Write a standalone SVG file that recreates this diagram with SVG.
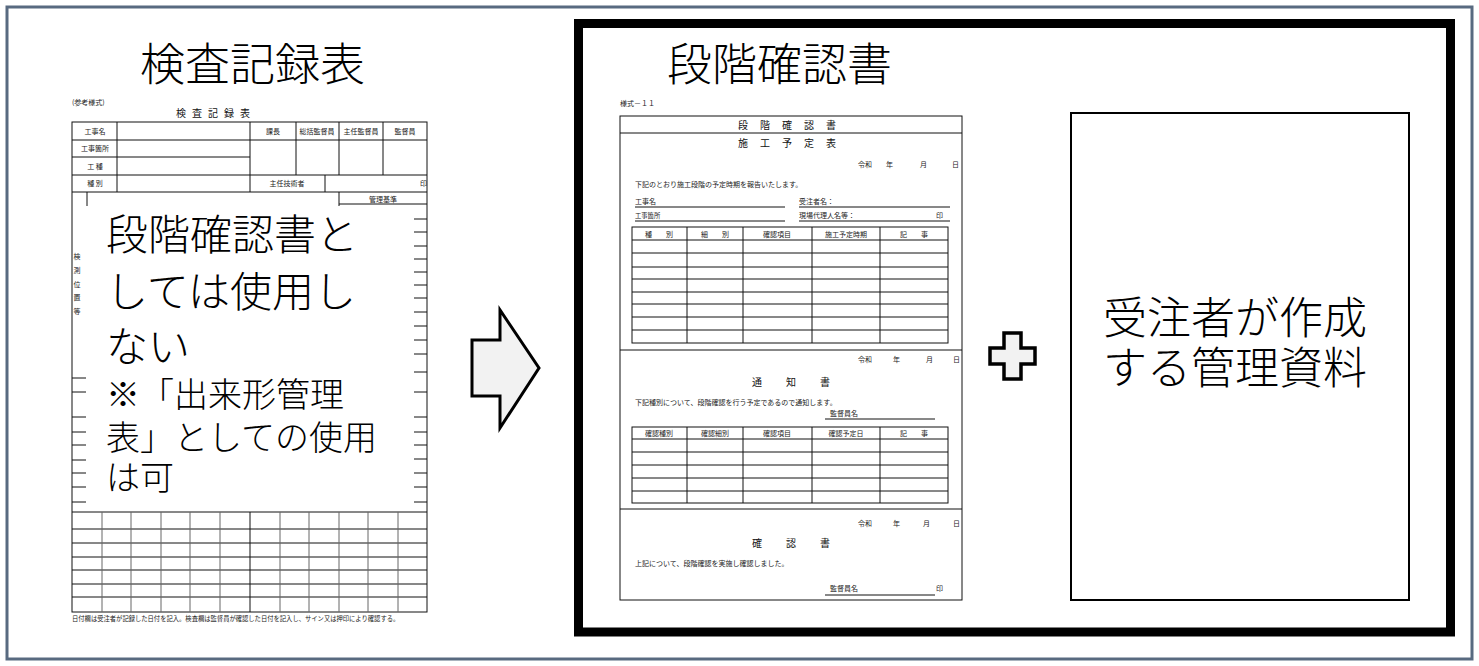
<svg xmlns="http://www.w3.org/2000/svg" width="1479" height="666" viewBox="0 0 1479 666">
<style>
.jp{font-family:"Noto Sans CJK JP","Noto Sans",sans-serif;fill:#000}
.title{font-size:45px;font-weight:300}
.big{font-size:42px;font-weight:300}
.mid{font-size:34px;font-weight:300}
.rbox{font-size:44px;font-weight:300}
.sm{font-family:"Noto Sans CJK JP",sans-serif;font-size:7px;fill:#222}
.xs{font-family:"Noto Sans CJK JP",sans-serif;font-size:6.3px;fill:#222}
.hd{font-family:"Noto Sans CJK JP",sans-serif;font-size:10px;fill:#111}
.ln{stroke:#111;stroke-width:1;fill:none}
.lg{stroke:#666;stroke-width:1;fill:none}
.ctr{text-anchor:middle}
</style>
<rect x="7" y="7" width="1465" height="652" fill="#fff" stroke="#586a80" stroke-width="3"/>

<g id="left-form">
<text class="jp title" x="140" y="81">検査記録表</text>
<text class="sm" x="72" y="105">(参考様式)</text>
<text class="hd ctr" x="216" y="117" font-size="8" letter-spacing="6">検査記録表</text>
<rect class="ln" x="72" y="122" width="355" height="490"/>
<path class="ln" d="M72 140H427M72 157H250M72 175H427M72 192H427M117 122V192M250 122V192M296 122V175M339 122V175M383 122V175M325 175V192M87 192V206M339 192V206M339 204H427"/>
<text class="sm ctr" x="95" y="134">工事名</text>
<text class="sm ctr" x="95" y="151" font-size="6">工事箇所</text>
<text class="sm ctr" x="95" y="169">工 種</text>
<text class="sm ctr" x="95" y="186">種 別</text>
<text class="sm ctr" x="273" y="134">課長</text>
<text class="sm ctr" x="317" y="134" font-size="6">総括監督員</text>
<text class="sm ctr" x="361" y="134" font-size="6">主任監督員</text>
<text class="sm ctr" x="405" y="134">監督員</text>
<text class="sm ctr" x="287" y="186">主任技術者</text>
<text class="sm" x="420" y="186">印</text>
<text class="sm" x="369" y="202">管理基準</text>
<g class="sm ctr"><text x="77" y="259">検</text><text x="77" y="273">測</text><text x="77" y="287">位</text><text x="77" y="300">置</text><text x="77" y="314">等</text></g>
<path class="ln" d="M414 219H427M414 232H427M414 246H427M414 259H427M414 272H427M414 285H427M414 298H427M414 312H427M414 326H427M414 340H427M414 354H427M414 372H427M414 392H427M414 417H427M414 432H427M414 445H427M414 459H427M414 473H427M414 487H427M414 502H427"/>
<path class="ln" d="M72 378H86M72 392H86M72 417H86M72 432H86M72 445H86M72 460H86M72 473H86M72 487H86M72 502H86"/>
<path class="ln" d="M72 512H427M72 529H427M72 543H427M72 557H427M72 570H427M72 584H427M72 597H427"/>
<path class="lg" d="M102 512V612M131 512V612M161 512V612M190 512V612M220 512V612M280 512V612M309 512V612M339 512V612M368 512V612M398 512V612"/>
<path class="ln" d="M250 512V612" stroke-width="1.6"/>
<text class="xs" x="72" y="621">日付欄は受注者が記録した日付を記入。検査欄は監督員が確認した日付を記入し、サイン又は押印により確認する。</text>
</g>

<g id="overlay-note">
<rect x="86" y="206" width="328" height="305" fill="#fff"/>
<text class="jp big" x="106" y="250">段階確認書と</text>
<text class="jp big" x="106" y="307">しては使用し</text>
<text class="jp big" x="106" y="362">ない</text>
<text class="jp mid" x="106" y="407">※「出来形管理</text>
<text class="jp mid" x="106" y="450">表」としての使用</text>
<text class="jp mid" x="106" y="490">は可</text>
</g>

<g id="connectors">
<path id="arrow" d="M472 340H500V310L539 368L500 428V396H472Z" fill="#f2f2f2" stroke="#000" stroke-width="3" stroke-linejoin="miter"/>
<path id="plus" d="M1004 333H1021V348H1035V364H1021V379H1004V364H990V348H1004Z" fill="#f2f2f2" stroke="#000" stroke-width="3.5"/>
</g>

<g id="stage-confirmation">
<rect x="578.5" y="23.5" width="872" height="608.5" fill="none" stroke="#000" stroke-width="9"/>
<text class="jp title" x="667" y="81">段階確認書</text>
<text class="sm" x="620" y="106">様式－１１</text>
<rect class="ln" x="620" y="116" width="342" height="484"/>
<path class="ln" d="M620 133H962M620 350H962M620 509H962"/>
<text class="hd ctr" x="793" y="129" letter-spacing="12">段階確認書</text>
<text class="hd ctr" x="793" y="147" letter-spacing="12">施工予定表</text>
<g class="sm"><text x="858" y="167">令和</text><text x="886" y="167">年</text><text x="920" y="167">月</text><text x="952" y="167">日</text></g>
<text class="sm" x="635" y="187">下記のとおり施工段階の予定時期を報告いたします。</text>
<text class="sm" x="635" y="204">工事名</text>
<text class="xs" x="635" y="218" font-size="5.5">工事箇所</text>
<text class="sm" x="799" y="204">受注者名：</text>
<text class="sm" x="799" y="218">現場代理人名等：</text>
<text class="sm" x="936" y="218">印</text>
<path class="ln" d="M635 207H785M635 221H785M799 207H950M799 221H950"/>
<rect class="ln" x="632" y="227" width="316" height="116"/>
<path class="ln" d="M632 240H948M632 253H948M632 267H948M632 279H948M632 292H948M632 304H948M632 317H948M632 330H948M687 227V343M743 227V343M812 227V343M880 227V343"/>
<g class="sm ctr"><text x="659" y="237">種　　別</text><text x="715" y="237">細　　別</text><text x="777" y="237">確認項目</text><text x="846" y="237">施工予定時期</text><text x="914" y="237">記　　事</text></g>
<g class="sm"><text x="858" y="362">令和</text><text x="893" y="362">年</text><text x="926" y="362">月</text><text x="953" y="362">日</text></g>
<text class="hd ctr" x="803" y="386" letter-spacing="24">通知書</text>
<text class="sm" x="635" y="405">下記種別について、段階確認を行う予定であるので通知します。</text>
<text class="sm" x="830" y="416">監督員名</text>
<path class="ln" d="M825 419H935"/>
<rect class="ln" x="632" y="427" width="316" height="76"/>
<path class="ln" d="M632 439H948M632 452H948M632 465H948M632 478H948M632 491H948M687 427V503M743 427V503M812 427V503M880 427V503"/>
<g class="sm ctr"><text x="659" y="436">確認種別</text><text x="715" y="436">確認細別</text><text x="777" y="436">確認項目</text><text x="846" y="436">確認予定日</text><text x="914" y="436">記　　事</text></g>
<g class="sm"><text x="858" y="526">令和</text><text x="893" y="526">年</text><text x="923" y="526">月</text><text x="953" y="526">日</text></g>
<text class="hd ctr" x="803" y="547" letter-spacing="24">確認書</text>
<text class="sm" x="635" y="566">上記について、段階確認を実施し確認しました。</text>
<text class="sm" x="830" y="591">監督員名</text>
<text class="sm" x="936" y="591">印</text>
<path class="ln" d="M825 595H935"/>
</g>

<g id="contractor-docs">
<rect x="1071" y="113" width="338" height="487" fill="#fff" stroke="#000" stroke-width="2"/>
<text class="jp rbox ctr" x="1235" y="334">受注者が作成</text>
<text class="jp rbox ctr" x="1235" y="384">する管理資料</text>
</g>
</svg>
